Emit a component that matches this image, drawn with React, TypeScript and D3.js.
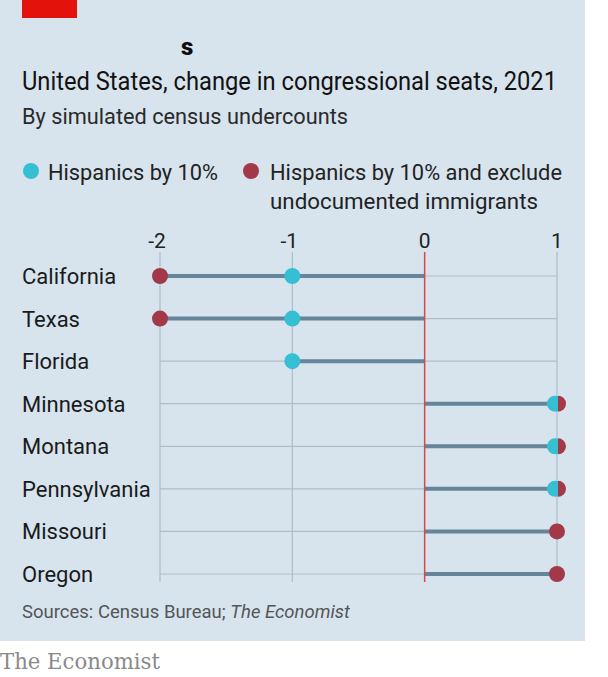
import React from "react";
import * as d3 from "d3";

const states = ["California", "Texas", "Florida", "Minnesota", "Montana", "Pennsylvania", "Missouri", "Oregon"];
const hispanics10: (number | null)[] = [-1, -1, -1, 1, 1, 1, null, null];
const excludeUndocumented: (number | null)[] = [-2, -2, null, 1, 1, 1, 1, 1];
const ticks = [-2, -1, 0, 1];

const W = 608;
const H = 677;
const BG = "#d7e4ee";
const BLUE = "#35bfd3";
const RED = "#a33848";
const BAR = "#66849a";
const GRID = "#aebdc9";
const FONT = "Roboto, 'Noto Sans', sans-serif";

export default function App() {
  const x = d3.scaleLinear().domain([-2, 1]).range([160, 557]);
  const y = d3.scalePoint<string>().domain(states).range([276, 574]);
  const gridTop = 252;
  const gridBottom = 582;
  const R = 8;
  const halfRight = d3.arc()({ innerRadius: 0, outerRadius: R, startAngle: 0, endAngle: Math.PI }) as string;

  return (
    <svg width={W} height={H} style={{ position: "absolute", left: 0, top: 0 }} fontFamily={FONT}>
      <rect x={0} y={0} width={W} height={H} fill="#ffffff" />
      <rect x={0} y={0} width={585} height={641} fill={BG} />
      <rect x={22} y={0} width={55} height={18} fill="#e3120b" />
      <text x={181} y={55} fontSize={24} fontWeight={900} fill="#0c0c0c">s</text>

      <text x={22} y={90} fontSize={25.5} fill="#121212" textLength={535} lengthAdjust="spacingAndGlyphs">
        United States, change in congressional seats, 2021
      </text>
      <text x={22} y={124} fontSize={22} fill="#2a2a2a" textLength={326} lengthAdjust="spacingAndGlyphs">
        By simulated census undercounts
      </text>

      <circle cx={31} cy={171} r={R} fill={BLUE} />
      <text x={48} y={180} fontSize={22} fill="#222" textLength={170} lengthAdjust="spacingAndGlyphs">
        Hispanics by 10%
      </text>
      <circle cx={251} cy={171} r={R} fill={RED} />
      <text x={270} y={180} fontSize={22} fill="#222" textLength={292} lengthAdjust="spacingAndGlyphs">
        Hispanics by 10% and exclude
      </text>
      <text x={270} y={209} fontSize={22} fill="#222" textLength={268} lengthAdjust="spacingAndGlyphs">
        undocumented immigrants
      </text>

      {ticks.map((t) => (
        <g key={t}>
          <text x={x(t) - (t < 0 ? 3 : 0)} y={248} fontSize={21} textAnchor="middle" fill="#222">
            {t}
          </text>
          {t !== 0 && (
            <line x1={x(t)} x2={x(t)} y1={gridTop} y2={gridBottom} stroke={GRID} strokeWidth={1.2} />
          )}
        </g>
      ))}

      {states.map((s) => (
        <line key={"h" + s} x1={x(-2)} x2={x(1)} y1={y(s)} y2={y(s)} stroke={GRID} strokeWidth={1.2} />
      ))}

      {states.map((s, i) => {
        const vals = [hispanics10[i], excludeUndocumented[i]].filter((v) => v !== null) as number[];
        const ext = vals.reduce((a, b) => (Math.abs(b) > Math.abs(a) ? b : a), 0);
        return (
          <line key={"b" + s} x1={x(0)} x2={x(ext)} y1={y(s)} y2={y(s)} stroke={BAR} strokeWidth={4} />
        );
      })}

      <line x1={x(0)} x2={x(0)} y1={gridTop} y2={gridBottom} stroke="#d9474b" strokeWidth={1.5} />

      {states.map((s, i) => {
        const a = hispanics10[i];
        const b = excludeUndocumented[i];
        const both = a !== null && b !== null && a === b;
        const cy = y(s) as number;
        return (
          <g key={"d" + s}>
            {a !== null && <circle cx={x(a) - (both ? 2 : 0)} cy={cy} r={R} fill={BLUE} />}
            {b !== null && !both && <circle cx={x(b)} cy={cy} r={R} fill={RED} />}
            {b !== null && both && (
              <path d={halfRight} transform={`translate(${x(b) + 1},${cy})`} fill={RED} />
            )}
          </g>
        );
      })}

      {states.map((s) => (
        <text key={"l" + s} x={22} y={(y(s) as number) + 8} fontSize={22} fill="#1a1a1a">
          {s}
        </text>
      ))}

      <text x={22} y={618} fontSize={18.5} fill="#555">
        Sources: Census Bureau; <tspan fontStyle="italic">The Economist</tspan>
      </text>

      <text x={0} y={669} fontSize={22} fill="#8a8a8a" fontFamily="'DejaVu Serif', 'Liberation Serif', serif" textLength={160} lengthAdjust="spacingAndGlyphs">
        The Economist
      </text>
    </svg>
  );
}
